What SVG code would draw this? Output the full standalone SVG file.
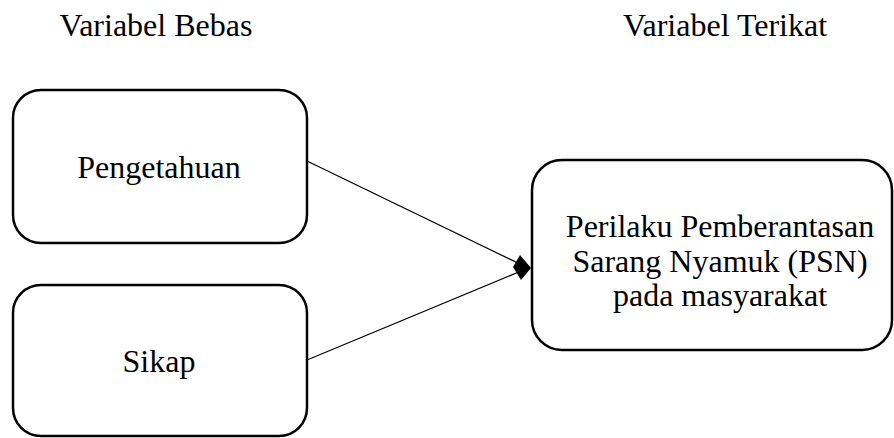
<svg xmlns="http://www.w3.org/2000/svg" width="894" height="438" viewBox="0 0 894 438">
<style>
.box{fill:#fff;stroke:#000;stroke-width:2.5}
.t{font-family:'Liberation Serif','Times New Roman',serif;font-size:32px;fill:#000;text-anchor:middle}
.ln{stroke:#000;stroke-width:1.2;fill:none}
</style>
<text class="t" x="156" y="36">Variabel Bebas</text>
<text class="t" x="725" y="36">Variabel Terikat</text>
<g id="pengetahuan">
<rect class="box" x="13" y="90" width="294" height="153" rx="28" ry="28"/>
<text class="t" x="159" y="178">Pengetahuan</text>
</g>
<g id="sikap">
<rect class="box" x="13" y="285" width="294" height="151" rx="28" ry="28"/>
<text class="t" x="159" y="372">Sikap</text>
</g>
<g id="perilaku">
<rect class="box" x="532" y="160" width="360" height="190" rx="30" ry="30"/>
<text class="t" x="720" y="237">Perilaku Pemberantasan</text>
<text class="t" x="720" y="272">Sarang Nyamuk (PSN)</text>
<text class="t" x="720" y="306">pada masyarakat</text>
</g>
<g id="connectors">
<line class="ln" x1="307" y1="161" x2="526" y2="267"/>
<line class="ln" x1="307" y1="360" x2="526" y2="269"/>
<polygon points="513,267 520,255 531,268 521,280" fill="#000"/>
</g>
</svg>
